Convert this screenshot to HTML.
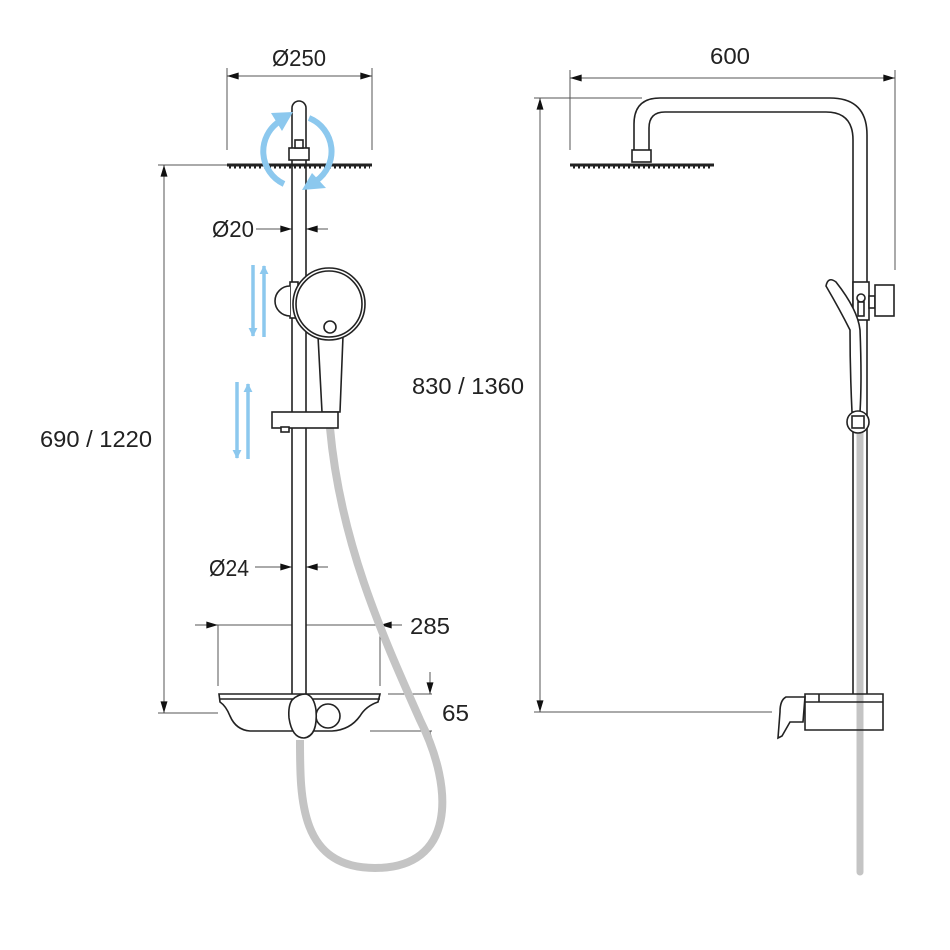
<!DOCTYPE html>
<html><head><meta charset="utf-8"><style>
html,body{margin:0;padding:0;background:#fff}
svg{display:block}
text{font-family:"Liberation Sans",sans-serif;font-size:23px;fill:#222}
</style></head><body>
<svg width="950" height="950" viewBox="0 0 950 950" xmlns="http://www.w3.org/2000/svg">
<defs>
<marker id="ar" viewBox="0 0 10 6" refX="10" refY="3" markerWidth="14" markerHeight="7" markerUnits="userSpaceOnUse" orient="auto-start-reverse"><path d="M0,0 L10,3 L0,6 Z" fill="#111"/></marker>
<marker id="ba" viewBox="0 0 10 10" refX="9" refY="5" markerWidth="9" markerHeight="14" markerUnits="userSpaceOnUse" orient="auto"><path d="M0,0 L10,5 L0,10 Z" fill="#8cc8ee"/></marker>
</defs>
<g stroke="#555" stroke-width="1" fill="none">
<line x1="227" y1="68" x2="227" y2="150"/><line x1="372" y1="68" x2="372" y2="150"/>
<line x1="227" y1="76" x2="372" y2="76" marker-start="url(#ar)" marker-end="url(#ar)"/>
<line x1="158" y1="165" x2="245" y2="165"/><line x1="158" y1="713" x2="218" y2="713"/>
<line x1="164" y1="165" x2="164" y2="713" marker-start="url(#ar)" marker-end="url(#ar)"/>
<line x1="256" y1="229" x2="292" y2="229" marker-end="url(#ar)"/>
<line x1="328" y1="229" x2="306" y2="229" marker-end="url(#ar)"/>
<line x1="292" y1="229" x2="306" y2="229"/>
<line x1="255" y1="567" x2="292" y2="567" marker-end="url(#ar)"/>
<line x1="328" y1="567" x2="306" y2="567" marker-end="url(#ar)"/>
<line x1="292" y1="567" x2="306" y2="567"/>
<line x1="195" y1="625" x2="218" y2="625" marker-end="url(#ar)"/>
<line x1="402" y1="625" x2="380" y2="625" marker-end="url(#ar)"/>
<line x1="218" y1="625" x2="380" y2="625"/>
<line x1="218" y1="625" x2="218" y2="686"/><line x1="380" y1="625" x2="380" y2="686"/>
<line x1="388" y1="694" x2="432" y2="694"/><line x1="370" y1="731" x2="432" y2="731"/>
<line x1="430" y1="672" x2="430" y2="694" marker-end="url(#ar)"/>
<line x1="430" y1="752" x2="430" y2="731" marker-end="url(#ar)"/>
<line x1="570" y1="70" x2="570" y2="150"/><line x1="895" y1="70" x2="895" y2="270"/>
<line x1="570" y1="78" x2="895" y2="78" marker-start="url(#ar)" marker-end="url(#ar)"/>
<line x1="534" y1="98" x2="642" y2="98"/><line x1="534" y1="712" x2="772" y2="712"/>
<line x1="540" y1="98" x2="540" y2="712" marker-start="url(#ar)" marker-end="url(#ar)"/>
</g>
<text x="272" y="66" textLength="54" lengthAdjust="spacingAndGlyphs">Ø250</text>
<text x="40" y="447" textLength="112" lengthAdjust="spacingAndGlyphs">690 / 1220</text>
<text x="212" y="237" textLength="42" lengthAdjust="spacingAndGlyphs">Ø20</text>
<text x="209" y="576" textLength="40" lengthAdjust="spacingAndGlyphs">Ø24</text>
<text x="410" y="634" textLength="40" lengthAdjust="spacingAndGlyphs">285</text>
<text x="442" y="721" textLength="27" lengthAdjust="spacingAndGlyphs">65</text>
<text x="710" y="64" textLength="40" lengthAdjust="spacingAndGlyphs">600</text>
<text x="412" y="394" textLength="112" lengthAdjust="spacingAndGlyphs">830 / 1360</text>

<path d="M330 428 C340 540,380 630,420 720 C455 790,455 868,375 868 C300 868,300 800,300 740" stroke="#c4c4c4" stroke-width="8" fill="none"/>

<g stroke="#222" stroke-width="1.6" fill="#fff">
<path d="M292 700 L292 108 A7 7 0 0 1 306 108 L306 700"/>
<rect x="289" y="148" width="20" height="12"/>
<rect x="295" y="140" width="8" height="8"/>
<path d="M227 165 L372 165" stroke-width="3"/>
<path d="M229 167 L370 167" stroke-dasharray="2 3" stroke-width="3"/>
<rect x="290" y="282" width="8" height="36"/>
<path d="M290 286 A14 14 0 0 0 290 316"/>
<path d="M318 336 L322 412 L340 412 L343 336"/>
<circle cx="329" cy="304" r="36"/>
<circle cx="329" cy="304" r="33"/>
<circle cx="330" cy="327" r="6"/>
<rect x="272" y="412" width="66" height="16"/>
<rect x="281" y="427" width="8" height="5"/>
<path d="M219 694 L380 694 L378 702 Q366 706 360 716 Q350 730 332 731 L250 731 Q236 730 230 716 Q226 706 220 702 Z"/>
<line x1="219" y1="699" x2="380" y2="699"/>
<circle cx="328" cy="716" r="12"/>
<path d="M292 700 Q298 694 306 694 Q314 696 316 710 Q318 736 304 738 Q292 738 289 718 Q288 706 292 700 Z"/>
</g>
<g stroke="#222" stroke-width="1.6" fill="none">
<line x1="853" y1="140" x2="853" y2="694"/>
<path d="M853 140 Q853 112 826 112 L665 112 Q649 112 649 128 L649 150"/>
<path d="M867 694 L867 135 Q867 98 830 98 L660 98 Q634 98 634 124 L634 150"/>
</g>
<line x1="860" y1="432" x2="860" y2="872" stroke="#c4c4c4" stroke-width="7" stroke-linecap="round"/>
<g stroke="#222" stroke-width="1.6" fill="#fff">
<rect x="632" y="150" width="19" height="12"/>
<path d="M570 165 L714 165" stroke-width="3"/>
<path d="M573 167 L711 167" stroke-dasharray="2 3" stroke-width="3"/>
<rect x="853" y="282" width="16" height="38"/>
<circle cx="861" cy="298" r="4"/>
<rect x="858" y="302" width="6" height="14"/>
<rect x="869" y="296" width="6" height="12"/>
<rect x="875" y="285" width="19" height="31"/>
<path d="M826 286 Q828 276 836 282 Q858 310 860 330 Q862 380 860 412 L852 412 Q850 370 850 330 Q840 310 826 286 Z"/>
<circle cx="858" cy="422" r="11"/>
<rect x="852" y="416" width="12" height="12"/>
<path d="M805 694 L883 694 L883 730 L805 730 Z" fill="none"/>
<line x1="805" y1="702" x2="883" y2="702"/>
<line x1="819" y1="694" x2="819" y2="702"/>
<path d="M805 697 L786 697 Q780 700 780 712 L778 738 L782 736 L790 722 L803 722 Z"/>
</g>
<g stroke="#8cc8ee" fill="none" stroke-width="6">
<path d="M284 184 A36 36 0 0 1 280 121"/>
<path d="M309 118 A36 36 0 0 1 316 181"/>
</g>
<g fill="#8cc8ee">
<path d="M293 112 L271 113 L282 131 Z"/>
<path d="M302 190 L326 188 L312 173 Z"/>
</g>
<g stroke="#8cc8ee" stroke-width="3.5" fill="none">
<line x1="253" y1="265" x2="253" y2="336" marker-end="url(#ba)"/>
<line x1="264" y1="337" x2="264" y2="266" marker-end="url(#ba)"/>
<line x1="237" y1="382" x2="237" y2="458" marker-end="url(#ba)"/>
<line x1="248" y1="459" x2="248" y2="384" marker-end="url(#ba)"/>
</g>
</svg>
</body></html>
